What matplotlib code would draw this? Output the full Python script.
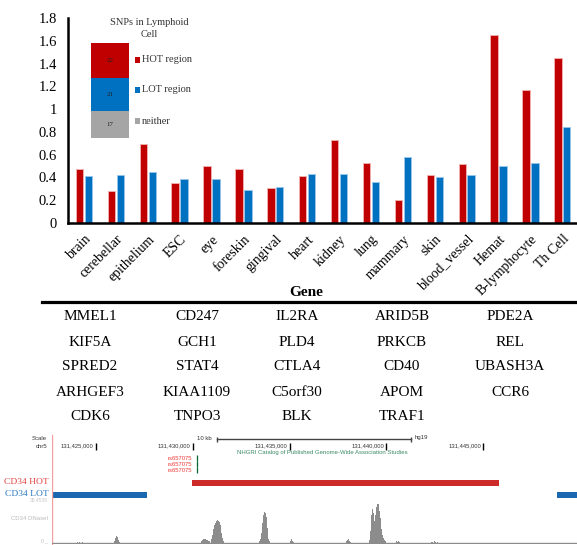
import matplotlib
matplotlib.use("Agg")
import matplotlib.pyplot as plt
from matplotlib.lines import Line2D
from matplotlib.patches import Rectangle

# ---- bar chart data ----
tissues = ["brain", "cerebellar", "epithelium", "ESC", "eye", "foreskin", "gingival",
           "heart", "kidney", "lung", "mammary", "skin", "blood_vessel", "Hemat",
           "B-lymphocyte", "Th Cell"]
hot_vals = [0.47, 0.28, 0.69, 0.35, 0.50, 0.47, 0.31, 0.41, 0.73, 0.53, 0.20, 0.42,
            0.52, 1.65, 1.17, 1.45]
lot_vals = [0.41, 0.42, 0.45, 0.39, 0.39, 0.29, 0.32, 0.43, 0.43, 0.36, 0.58, 0.40,
            0.42, 0.50, 0.53, 0.84]
y_ticks = [0, 0.2, 0.4, 0.6, 0.8, 1.0, 1.2, 1.4, 1.6, 1.8]
y_ticklabels = ["0", "0.2", "0.4", "0.6", "0.8", "1", "1.2", "1.4", "1.6", "1.8"]

# inset: SNPs in lymphoid cell
snp_groups = ["HOT region", "LOT region", "neither"]
snp_counts = [22, 21, 17]

# gene table
genes = [
    ["MMEL1", "CD247", "IL2RA", "ARID5B", "PDE2A"],
    ["KIF5A", "GCH1", "PLD4", "PRKCB", "REL"],
    ["SPRED2", "STAT4", "CTLA4", "CD40", "UBASH3A"],
    ["ARHGEF3", "KIAA1109", "C5orf30", "APOM", "CCR6"],
    ["CDK6", "TNPO3", "BLK", "TRAF1", ""],
]

# ---- genome browser data (kb on chr5) ----
view_kb = (131422.73, 131449.85)
coord_ticks = [131425, 131430, 131435, 131440, 131445]
coord_labels = ["131,425,000", "131,430,000", "131,435,000", "131,440,000", "131,445,000"]
hot_regions = [(131429.96, 131445.82)]
lot_regions = [(131422.73, 131427.63), (131448.81, 131450.5)]
snp_names = ["rs657075", "rs657075", "rs657075"]
snp_pos = 131430.22
scale_bar = (131431.25, 131441.25)
dnase_max = 35.4539
# DNase signal: start of each stretch (kb) and bin values
bin_kb = 0.0517
dnase_starts = [131424.00, 131425.93, 131430.42, 131430.93, 131433.43, 131435.00,
                131437.90, 131439.10, 131440.50, 131442.30]
dnase_vals = [
    [0.8, 0.0, 0.8, 0.0, 0.0, 0.8],
    [1.7, 4.2, 5.9, 5.1, 2.5, 0.8],
    [1.7, 2.5, 3.4, 3.4, 3.4, 2.5, 2.5, 1.7, 1.7],
    [3.4, 6.8, 11.8, 15.2, 16.9, 18.6, 19.4, 18.6, 17.7, 15.2, 8.4, 4.2, 1.7],
    [1.7, 3.4, 8.4, 16.9, 23.6, 26.2, 25.3, 21.9, 12.7, 3.4, 1.7],
    [1.7, 3.4, 1.7, 0.8],
    [1.7, 2.5, 3.4, 1.7, 0.8],
    [2.5, 10.1, 23.6, 28.7, 25.3, 18.6, 23.6, 30.4, 32.9, 32.9, 27.0, 21.1, 11.8, 6.8, 4.2, 2.5, 1.7],
    [1.7, 0.8, 1.7, 0.8],
    [0.8, 0.8, 0.0, 1.7, 0.8, 0.0, 0.8],
]

RED = "#C00000"
BLUE = "#0070C0"
GRAY = "#A5A5A5"
W, H = 577, 545
serif = ["Liberation Serif", "DejaVu Serif"]
sans = ["Liberation Sans", "DejaVu Sans"]


def fx(px):
    return px / W


def fy(py):
    return 1 - py / H


fig = plt.figure(figsize=(W / 100, H / 100), dpi=100)

# ---- main bar chart ----
ax = fig.add_axes([fx(68), fy(223), fx(W - 68), (223 - 18) / H])
xs = list(range(len(tissues)))
bw = 0.23
ax.bar([x - 0.14 for x in xs], hot_vals, bw, color=RED, edgecolor="#f3b3b3", linewidth=0.6)
ax.bar([x + 0.14 for x in xs], lot_vals, bw, color=BLUE, edgecolor="#9cc6ea", linewidth=0.6)
ax.set_xlim(-0.5, 15.46)
ax.set_ylim(0, 1.8)
ax.set_yticks(y_ticks)
ax.set_yticklabels(y_ticklabels, family=serif, fontsize=10.5)
ax.set_xticks(xs)
ax.set_xticklabels(tissues, family=serif, fontsize=10, rotation=45, ha="right",
                   va="top", rotation_mode="anchor")
ax.tick_params(axis="y", length=0, pad=8)
ax.tick_params(axis="x", length=0, pad=7)
for s in ["top", "right"]:
    ax.spines[s].set_visible(False)
for s in ["left", "bottom"]:
    ax.spines[s].set_linewidth(1.8)

# ---- inset stacked bar ----
iax = fig.add_axes([fx(91), fy(138), (129 - 91) / W, (138 - 43) / H])
order = [2, 1, 0]
cols = [RED, BLUE, GRAY]
bottom = 0
for i in order:
    iax.bar(0, snp_counts[i], 1.0, bottom=bottom, color=cols[i], linewidth=0)
    iax.text(0, bottom + snp_counts[i] / 2, str(snp_counts[i]), ha="center", va="center",
             fontsize=5, family=serif, color="#222222")
    bottom += snp_counts[i]
iax.set_xlim(-0.5, 0.5)
iax.set_ylim(0, sum(snp_counts))
iax.axis("off")

fig.text(fx(149), fy(28.5), "SNPs in Lymphoid\nCell", ha="center", va="center",
         fontsize=7.5, family=serif, color="#333333", linespacing=1.35)
for name, c, py in zip(snp_groups, cols, [60, 90, 121]):
    fig.add_artist(Rectangle((fx(135), fy(py + 3)), 5 / W, 6 / H, transform=fig.transFigure,
                             color=c, linewidth=0))
    fig.text(fx(141.5), fy(py), name, ha="left", va="center", fontsize=7.5,
             family=serif, color="#333333")

# ---- gene table ----
fig.text(fx(306), fy(293), "Gene", ha="center", va="center", fontsize=11,
         fontweight="bold", family=serif)
fig.add_artist(Line2D([fx(42), 1.0], [fy(301.5), fy(301.5)], color="black", linewidth=2.3,
                      transform=fig.transFigure))
col_x = [90, 197, 297, 402, 510]
row_y = [317, 342, 367, 392, 416]
for r, row in enumerate(genes):
    for c, g in enumerate(row):
        fig.text(fx(col_x[c]), fy(row_y[r]), g, ha="center", va="center",
                 fontsize=11, family=serif)

# ---- genome browser ----
gax = fig.add_axes([fx(52), 0, fx(W - 52), (545 - 430) / H])
gax.set_xlim(*view_kb)
gax.set_ylim(545, 430)
gax.axis("off")
gax.axvline(view_kb[0] + 0.02, ymin=0, ymax=(545 - 435) / 115, color="#f4a0a0", linewidth=1)

# scale bar
gax.plot(scale_bar, [439, 439], color="#444444", linewidth=1)
gax.vlines(scale_bar, 436.5, 441.5, color="#444444", linewidth=1)
gax.text(scale_bar[0] - 0.25, 439, "10 kb", ha="right", va="center", fontsize=4.3,
         family=sans, color="#333333")
gax.text(scale_bar[1] + 0.2, 438, "hg19", ha="left", va="center", fontsize=4.3,
         family=sans, color="#333333")

# coordinate ticks
gax.vlines(coord_ticks, 442.5, 449.5, color="black", linewidth=1)
for t, lab in zip(coord_ticks, coord_labels):
    gax.text(t - 0.12, 446, lab, ha="right", va="center", fontsize=4.2, family=sans,
             color="#333333")
fig.text(fx(47), fy(439), "Scale", ha="right", va="center", fontsize=4.3, family=sans,
         color="#333333")
fig.text(fx(47), fy(446), "chr5", ha="right", va="center", fontsize=4.3, family=sans,
         color="#333333")

gax.text(131436.67, 452.5, "NHGRI Catalog of Published Genome-Wide Association Studies",
         ha="center", va="center", fontsize=4.3, family=sans, color="#3a8a66")
for k, (nm, py) in enumerate(zip(snp_names, [458, 464, 470])):
    gax.text(snp_pos - 0.25, py, nm, ha="right", va="center", fontsize=4.2,
             family=sans, color="#ee3b3b")
    gax.vlines(snp_pos, py - 3, py + 2.5, color="#006633", linewidth=0.9)

# HOT / LOT regions
for a, b in hot_regions:
    gax.add_patch(Rectangle((a, 480), b - a, 6, color="#cd2a2a", linewidth=0))
for a, b in lot_regions:
    gax.add_patch(Rectangle((a, 492), b - a, 6, color="#1a69b0", linewidth=0))
fig.text(fx(49), fy(482.5), "CD34 HOT", ha="right", va="center", fontsize=6.8,
         family=serif, color="#e04444")
fig.text(fx(49), fy(494.5), "CD34 LOT", ha="right", va="center", fontsize=6.8,
         family=serif, color="#2a78c2")
fig.text(fx(48), fy(501), "35.4539", ha="right", va="center", fontsize=3.6,
         family=sans, color="#c8c8c8")
fig.text(fx(48), fy(519), "CD34 DNaseI", ha="right", va="center", fontsize=4.3,
         family=sans, color="#bbbbbb")
fig.text(fx(48), fy(541), "0 _", ha="right", va="center", fontsize=3.6,
         family=sans, color="#bbbbbb")

# DNase signal
dax = fig.add_axes([fx(52), fy(544), fx(W - 52), (544 - 501) / H])
dax.set_xlim(*view_kb)
dax.set_ylim(-0.9, dnase_max)
dax.axis("off")
dax.axhline(0, color="#8c8c8c", linewidth=1.0)
for st, vals in zip(dnase_starts, dnase_vals):
    pos = [st + i * bin_kb for i in range(len(vals))]
    dax.bar(pos, vals, bin_kb, align="edge", color="#8c8c8c", linewidth=0)

fig.savefig("out.png", dpi=100)
